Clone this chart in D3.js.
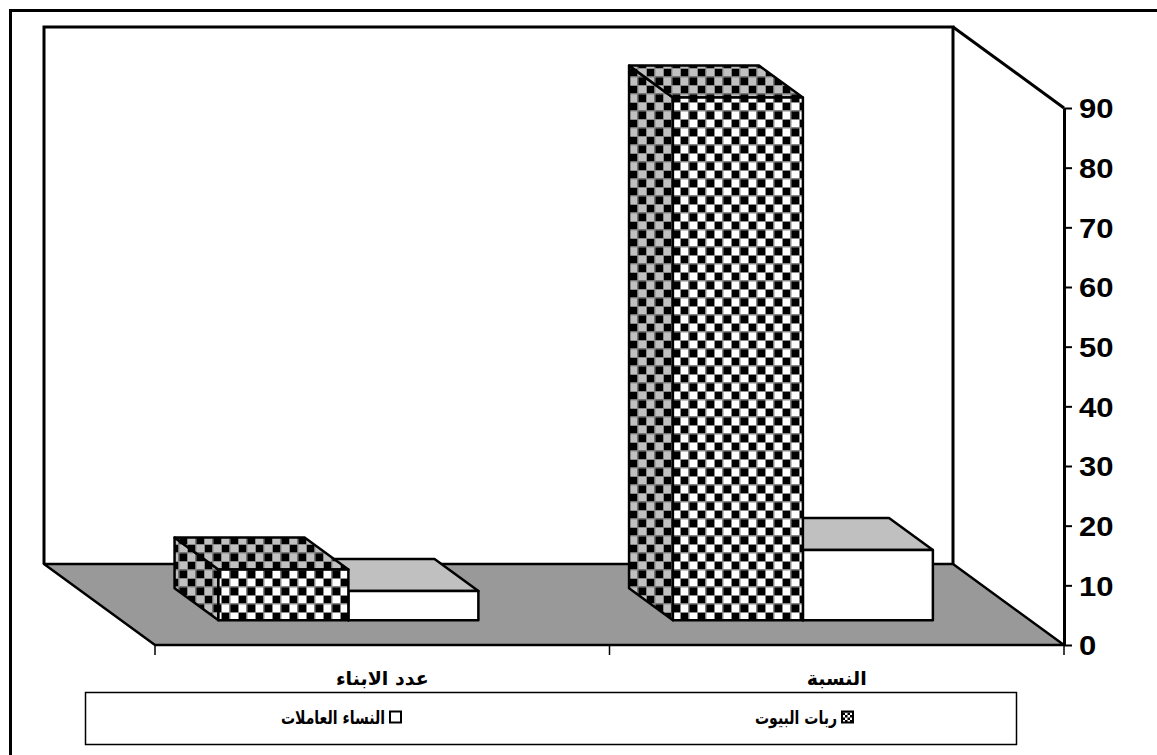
<!DOCTYPE html>
<html><head><meta charset="utf-8">
<script src="https://cdn.jsdelivr.net/npm/d3@7"></script>
<style>body{margin:0;background:#fff}svg{display:block}</style>
</head><body>
<svg id="chart" width="1157" height="755"></svg>
<script>
// ---- data ----
const categories = ["النسبة", "عدد الابناء"];          // first category sits on the right (RTL)
const seriesNames = ["ربات البيوت", "النساء العاملات"];
const housewives   = [87.6, 8.5];
const workingWomen = [11.8, 4.9];
const yTicks = [0, 10, 20, 30, 40, 50, 60, 70, 80, 90];

const svg = d3.select("#chart");
const FONT = "'Liberation Sans', Arial, 'DejaVu Sans', sans-serif";
const AFONT = "'DejaVu Sans', sans-serif";

// ---- geometry / scales ----
const F = {left: 155, right: 1064, bottom: 645, top: 108};
const D = {dx: -111, dy: -81};        // full floor depth vector (front -> back)
const bar = {d0: 0.305, d1: 0.70};    // bar depth extent (fraction of floor depth)

const y = d3.scaleLinear().domain([0, 90]).range([F.bottom, F.top]);
const xCat = d3.scaleBand().domain(categories).range([F.right, F.left]);
const x0 = d3.scaleBand().domain(categories).range([F.right, F.left])
  .paddingInner(0.428).paddingOuter(0.214);
const x1 = d3.scaleBand().domain(seriesNames).range([0, x0.bandwidth()]);

const P = (x, v, d) => [x + D.dx * d, y(v) + D.dy * d];
const poly = pts => "M" + pts.map(p => p.join(",")).join("L") + "Z";

// ---- patterns ----
const defs = svg.append("defs");
function checker(id, light, s, seam) {
  const p = defs.append("pattern").attr("id", id).attr("patternUnits", "userSpaceOnUse")
    .attr("width", 2 * s).attr("height", 2 * s);
  p.append("rect").attr("width", 2 * s).attr("height", 2 * s).attr("fill", light);
  p.append("rect").attr("width", s).attr("height", s).attr("fill", "#000");
  p.append("rect").attr("x", s).attr("y", s).attr("width", s).attr("height", s).attr("fill", "#000");
  if (seam) p.append("path")
    .attr("d", `M0,0.5H${2*s}M0,${s+0.5}H${2*s}M0.5,0V${2*s}M${s+0.5},0V${2*s}`)
    .attr("stroke", "#8a8a8a").attr("stroke-width", 1).attr("fill", "none");
}
checker("chkFront", "#fff", 8.5, true);
checker("chkSide", "#c0c0c0", 8.5, true);
checker("chkLegend", "#fff", 2.5, false);

// ---- outer frame ----
svg.append("path").attr("d", "M10.5,760V10.5H1160").attr("fill", "none")
  .attr("stroke", "#000").attr("stroke-width", 3);

// ---- walls ----
const g = svg.append("g");
const back = {l: F.left + D.dx, r: F.right + D.dx, t: y(90) + D.dy, b: y(0) + D.dy};
g.append("path").attr("d", poly([[back.l, back.b], [back.r, back.b], [F.right, F.bottom], [F.left, F.bottom]]))
  .attr("fill", "#999999").attr("stroke", "#000").attr("stroke-width", 2.5).attr("stroke-linejoin", "round");
g.append("path").attr("d", `M${back.l},${back.b}V${back.t}H${back.r}V${back.b}`)
  .attr("fill", "none").attr("stroke", "#000").attr("stroke-width", 3);
g.append("path").attr("d", `M${back.r},${back.t}L${F.right},${y(90)}`)
  .attr("fill", "none").attr("stroke", "#000").attr("stroke-width", 3);

// ---- bars ----
const values = [housewives, workingWomen];
const styles = {
  "ربات البيوت":     {front: "url(#chkFront)", top: "url(#chkSide)", side: "url(#chkSide)"},
  "النساء العاملات": {front: "#ffffff", top: "#c0c0c0", side: "#e0e0e0"}
};
const data = [];
categories.forEach((c, ci) => {
  [...seriesNames].reverse().forEach(s => {
    data.push({cat: c, series: s, value: values[seriesNames.indexOf(s)][ci]});
  });
});
const bars = g.selectAll("g.bar").data(data).join("g").attr("class", "bar");
bars.each(function(d) {
  const el = d3.select(this);
  const xa = x0(d.cat) + x1(d.series), xb = xa + x1.bandwidth();
  const st = styles[d.series];
  const common = s => s.attr("stroke", "#000").attr("stroke-width", 2.5).attr("stroke-linejoin", "round");
  common(el.append("path").attr("d", poly([P(xa, 0, bar.d0), P(xa, d.value, bar.d0), P(xa, d.value, bar.d1), P(xa, 0, bar.d1)])).attr("fill", st.side));
  common(el.append("path").attr("d", poly([P(xa, d.value, bar.d0), P(xb, d.value, bar.d0), P(xb, d.value, bar.d1), P(xa, d.value, bar.d1)])).attr("fill", st.top));
  common(el.append("path").attr("d", poly([P(xa, 0, bar.d0), P(xb, 0, bar.d0), P(xb, d.value, bar.d0), P(xa, d.value, bar.d0)])).attr("fill", st.front));
});

// ---- value axis (right, front) ----
const ax = svg.append("g").attr("transform", `translate(${F.right},0)`)
  .call(d3.axisRight(y).tickValues(yTicks).tickSize(8).tickSizeOuter(0));
ax.select(".domain").attr("stroke", "#000").attr("stroke-width", 3);
ax.selectAll(".tick line").attr("stroke", "#000").attr("stroke-width", 2);
ax.selectAll(".tick text").attr("x", 0).attr("dy", "0.37em")
  .attr("transform", "translate(15,0) scale(1.15,1)")
  .attr("fill", "#000").style("font-family", FONT).style("font-size", "27px").style("font-weight", "bold");

// ---- category axis ----
const bounds = [];
categories.forEach(c => { bounds.push(xCat(c), xCat(c) + xCat.bandwidth()); });
const uniq = Array.from(new Set(bounds.map(b => Math.round(b * 10) / 10)));
svg.append("g").selectAll("line").data(uniq).join("line")
  .attr("x1", d => d).attr("x2", d => d).attr("y1", F.bottom).attr("y2", F.bottom + 10)
  .attr("stroke", "#000").attr("stroke-width", 1.5);
svg.append("g").selectAll("text").data(categories).join("text")
  .attr("x", d => xCat(d) + xCat.bandwidth() / 2).attr("y", 685)
  .attr("text-anchor", "middle").attr("fill", "#000")
  .style("font-family", AFONT).style("font-size", "19px").style("font-weight", "bold")
  .text(d => d);

// ---- legend ----
const lg = svg.append("g");
lg.append("rect").attr("x", 85.5).attr("y", 692.5).attr("width", 931).attr("height", 52)
  .attr("fill", "#fff").attr("stroke", "#000").attr("stroke-width", 1.5);
const legendX = {"ربات البيوت": 842, "النساء العاملات": 390};
const legendSwatch = {"ربات البيوت": "url(#chkLegend)", "النساء العاملات": "#fff"};
const li = lg.selectAll("g.li").data(seriesNames).join("g").attr("class", "li");
li.append("rect").attr("x", d => legendX[d]).attr("y", 711.5).attr("width", 11).attr("height", 11)
  .attr("fill", d => legendSwatch[d]).attr("stroke", "#000").attr("stroke-width", 2);
li.append("text").attr("x", 0).attr("y", 0).attr("text-anchor", "end")
  .attr("transform", d => `translate(${legendX[d] - 5},724) scale(0.78,1)`)
  .attr("fill", "#000").style("font-family", AFONT).style("font-size", "18px").style("font-weight", "bold")
  .text(d => d);
</script>
</body></html>
